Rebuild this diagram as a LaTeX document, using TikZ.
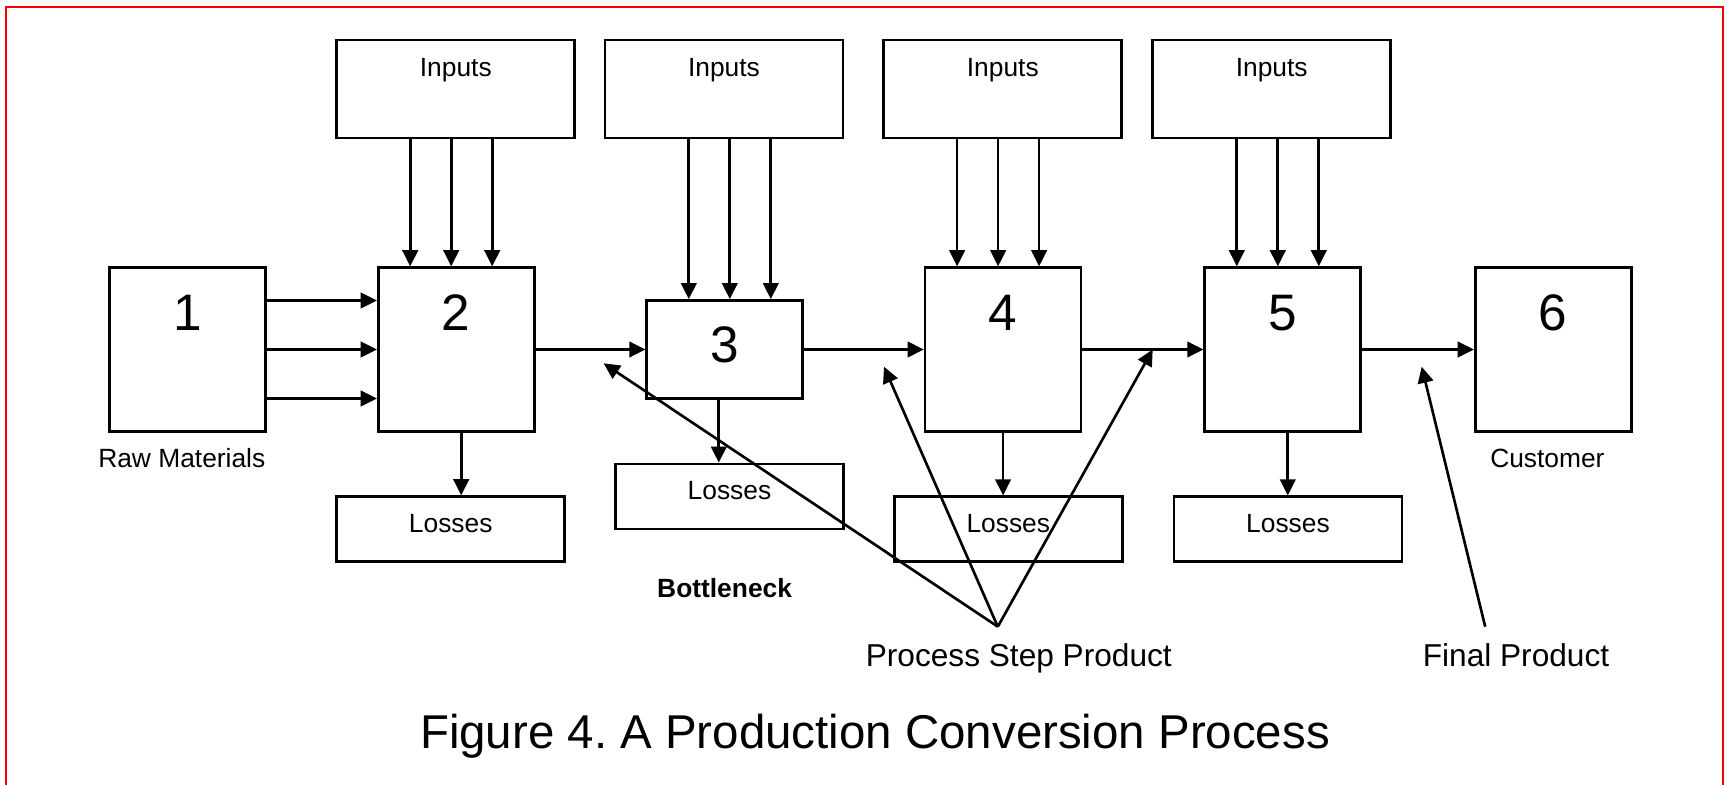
\documentclass[tikz,border=0pt]{standalone}
\usepackage{fontspec}
\setmainfont{Liberation Sans}
\usetikzlibrary{arrows.meta, positioning}

\tikzset{
	stepbox/.style={draw, line width=0.75pt, minimum width=1.56cm, inner sep=0pt,
		text height=0.623cm, text depth=1.013cm, font=\fontsize{14.6}{16}\selectfont},
	shortstep/.style={stepbox, text height=0.62cm, text depth=0.36cm},
	inbox/.style={draw, line width=0.75pt, minimum width=2.38cm, inner sep=0pt,
		text height=0.367cm, text depth=0.613cm, font=\fontsize{7.5}{9}\selectfont},
	lossbox/.style={inbox, minimum width=2.28cm, text height=0.357cm, text depth=0.293cm},
	lbl/.style={anchor=base, inner sep=0pt, font=\fontsize{7.5}{9}\selectfont},
	biglbl/.style={lbl, font=\fontsize{9}{11}\selectfont},
	flow/.style={-{Triangle[length=4.6pt, width=4.4pt]}, line width=0.75pt}
}

\begin{document}
\frenchspacing
\begin{tikzpicture}
				\useasboundingbox (0,0) rectangle (17.28,-7.85);
				% Draw the frame
				\draw[red, line width=0.6pt] (0.057,-7.95) -- (0.057,-0.073) -- (17.233,-0.073) -- (17.233,-7.95);

				% Draw the process steps
				\node[stepbox] (b1) at (1.877,-3.495) {1};
				\node[stepbox] (b2) at (4.562,-3.495) {2};
				\node[shortstep] (b3) at (7.248,-3.495) {3};
				\node[stepbox] (b4) at (10.031,-3.495) {4};
				\node[stepbox] (b5) at (12.828,-3.495) {5};
				\node[stepbox] (b6) at (15.532,-3.495) {6};

				\node[inbox] (in2) at (4.558,-0.89) {Inputs};
				\node[inbox] (in3) at (7.24,-0.89) {Inputs};
				\node[inbox] (in4) at (10.028,-0.89) {Inputs};
				\node[inbox] (in5) at (12.717,-0.89) {Inputs};

				\node[lossbox] (loss2) at (4.507,-5.292) {Losses};
				\node[lossbox] (loss3) at (7.295,-4.965) {Losses};
				\node[lossbox] (loss4) at (10.083,-5.293) {Losses};
				\node[lossbox] (loss5) at (12.88,-5.293) {Losses};

				\foreach \dy in {0.49,0,-0.49}
					\draw[flow] ([yshift=\dy cm]b1.east) -- ([yshift=\dy cm]b2.west);
				\foreach \a/\b in {2/3,3/4,4/5,5/6}
					\draw[flow] (b\a.east) -- (b\b.west);
				\foreach \b/\xa/\xb/\xc in {2/-0.46/-0.05/0.36, 3/-0.36/0.05/0.46, 4/-0.46/-0.05/0.36, 5/-0.46/-0.05/0.36}
					\foreach \dx in {\xa,\xb,\xc}
						\draw[flow] ([xshift=\dx cm]b\b.north |- in\b.south) -- ([xshift=\dx cm]b\b.north);
				\foreach \b/\s in {2/0.05,3/-0.06,4/0,5/0.05}
					\draw[flow] ([xshift=\s cm]b\b.south) -- ([xshift=\s cm]b\b.south |- loss\b.north);

				\node[lbl] (raw) at (1.818,-4.673) {Raw Materials};
				\node[lbl] (cust) at (15.474,-4.673) {Customer};
				\node[lbl, font=\fontsize{7.5}{9}\selectfont\bfseries] (neck) at (7.246,-5.973) {Bottleneck};
				\node[biglbl] (psp) at (10.188,-6.667) {Process Step Product};
				\node[biglbl] (fin) at (15.16,-6.667) {Final Product};
				\node[anchor=base, inner sep=0pt, font=\fontsize{13.5}{16}\selectfont] (title) at (8.75,-7.483) {Figure 4. A Production Conversion Process};

				% pointers to the products
				\coordinate (pspfoot) at (9.978,-6.267);
				\coordinate (pa) at (6.036,-3.633);
				\coordinate (pb) at (8.84,-3.667);
				\coordinate (pc) at (11.527,-3.495);
				\foreach \p in {pa,pb,pc}
					\draw[flow] (pspfoot) -- (\p);
				\coordinate (finfoot) at (14.852,-6.267);
				\coordinate (pd) at (14.217,-3.667);
				\draw[flow] (finfoot) -- (pd);

			\end{tikzpicture}
\end{document}
